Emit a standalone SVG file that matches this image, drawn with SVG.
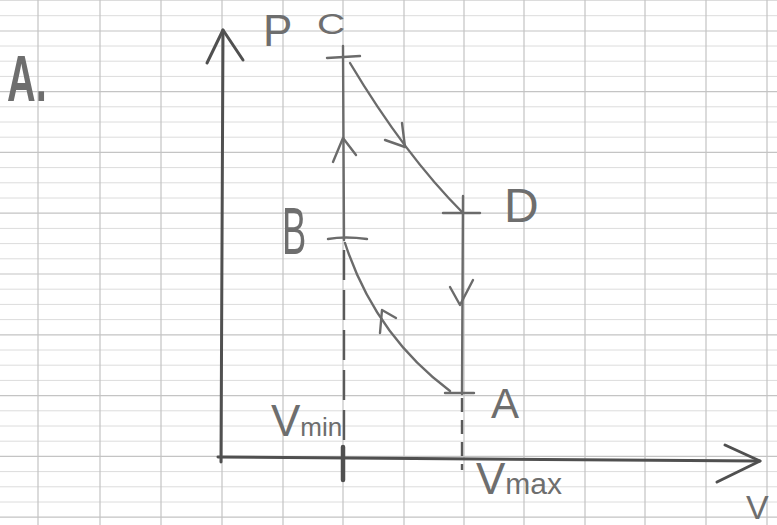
<svg xmlns="http://www.w3.org/2000/svg" width="777" height="525" viewBox="0 0 777 525">
<style>
.grid-major{stroke:#c4c4c4;stroke-width:1.2}
.grid-minor{stroke:#dcdcdc;stroke-width:1}
.ink{fill:none;stroke:#6b6b6b;stroke-width:2.4;stroke-linecap:round;stroke-linejoin:round}
.axis{fill:none;stroke:#505050;stroke-width:3;stroke-linecap:round;stroke-linejoin:round}
.dash{fill:none;stroke:#5a5a5a;stroke-width:2.4;stroke-dasharray:30 10}
.lbl{font-family:"Liberation Sans",Arial,sans-serif;fill:#6e6e6e}
</style>
<rect width="777" height="525" fill="#ffffff"/>
<g id="grid">
<g class="grid-minor">
<path d="M0,0.5H777M0,15.7H777M0,46H777M0,61.2H777M0,76.4H777M0,106.8H777M0,122H777M0,137.2H777M0,167.6H777M0,182.8H777M0,198H777M0,228.4H777M0,243.6H777M0,258.8H777M0,289.2H777M0,304.4H777M0,319.6H777M0,350H777M0,365.2H777M0,380.4H777M0,410.8H777M0,426H777M0,441.2H777M0,471.6H777M0,486.8H777M0,502H777"/>
</g>
<g class="grid-major">
<path d="M0,31H777M0,91.6H777M0,152.4H777M0,213.2H777M0,274H777M0,334.8H777M0,395.6H777M0,456.4H777M0,517.2H777"/>
<path d="M38,0V525M100,0V525M161,0V525M222,0V525M283,0V525M343,0V525M404,0V525M464,0V525M524,0V525M585,0V525M645,0V525M706,0V525M767,0V525"/>
</g>
</g>
<g id="title">
<text class="lbl" transform="translate(7,101) scale(0.62,1)" font-size="64" font-weight="bold" fill="#6a6a6a">A.</text>
</g>
<g id="axes">
<path class="axis" d="M221,462 L223,30"/>
<path class="axis" d="M207,63 L223,30 L243,60"/>
<path class="axis" d="M218,457 L760,461"/>
<path class="axis" d="M725,445 L760,461 L717,482"/>
<text class="lbl" x="263" y="46" font-size="44">P</text>
<text class="lbl" x="746" y="519" font-size="34">V</text>
</g>
<g id="connectors">
<path class="ink" d="M343,46 L344,240"/>
<path class="ink" d="M333,162 L343,138 L356,155"/>
<path class="ink" d="M350,63 Q405,155 463,213"/>
<path class="ink" d="M385,140 L405,147 L402,123"/>
<path class="ink" d="M463,196 L462,394"/>
<path class="ink" d="M450,287 L460,305 L473,280"/>
<path class="ink" d="M345,243 Q375,335 450,391"/>
<path class="ink" d="M380,333 L382,310 L396,318"/>
<path class="dash" d="M344,250 L344,440"/>
<path d="M343,447 L343,480" stroke="#505050" stroke-width="4.5" stroke-linecap="round" fill="none"/>
<path class="dash" style="stroke-dasharray:14 8" d="M462,398 L462,470"/>
</g>
<g id="node-C">
<path class="ink" d="M327,58 L360,56"/>
<text class="lbl" transform="translate(317,34) scale(1.3,1)" font-size="30">C</text>
</g>
<g id="node-D">
<path class="ink" d="M443,213 L480,213"/>
<text class="lbl" x="504" y="222" font-size="48">D</text>
</g>
<g id="node-B">
<path class="ink" d="M328,239 Q345,236 367,239"/>
<text class="lbl" transform="translate(282,254) scale(0.55,1)" font-size="66">B</text>
</g>
<g id="node-A">
<path class="ink" d="M445,393 L474,393"/>
<text class="lbl" x="491" y="418" font-size="42">A</text>
</g>
<g id="labels-V">
<text class="lbl" x="271" y="436" font-size="44">V<tspan font-size="26">min</tspan></text>
<text class="lbl" x="476" y="494" font-size="44">V<tspan font-size="30">max</tspan></text>
</g>
</svg>
